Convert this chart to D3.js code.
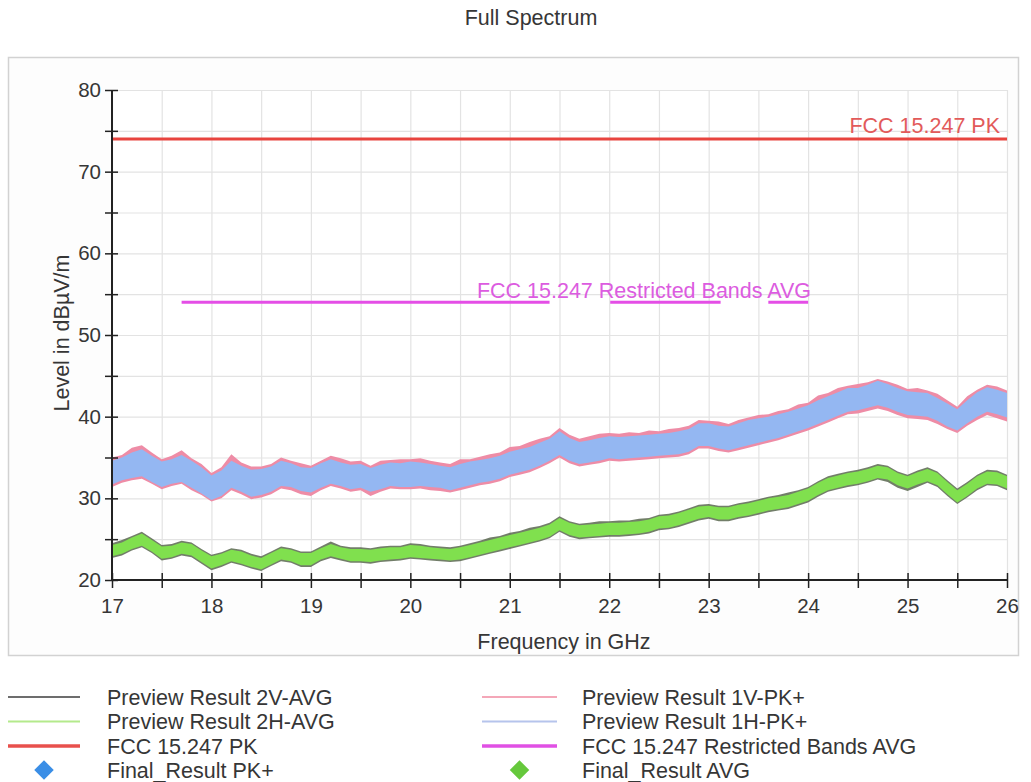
<!DOCTYPE html>
<html>
<head>
<meta charset="utf-8">
<script src="https://cdn.jsdelivr.net/npm/d3@7"></script>
<style>
  html, body { margin: 0; padding: 0; background: #ffffff; }
  svg { display: block; font-family: "Liberation Sans", Arial, sans-serif; }
</style>
</head>
<body>
<svg id="chart" width="1031" height="782"></svg>
<script>
// ---- frequency sampling of the preview traces (GHz) ----
const freqStart = 17.0;
const freqStep = 0.1;

// Preview Result 1V-PK+ : max / min envelope per 0.1 GHz bin (dBµV/m)
const pk1V_hi = [35.0,35.3,36.2,36.5,35.6,34.8,35.2,35.9,34.9,34.2,
  33.1,33.8,35.4,34.4,33.9,33.9,34.2,35.0,34.6,34.3,
  34.0,34.6,35.2,34.9,34.5,34.6,34.0,34.6,34.7,34.8,
  34.8,34.9,34.6,34.4,34.2,34.8,34.8,35.1,35.4,35.6,
  36.3,36.4,36.9,37.3,37.6,38.6,37.8,37.3,37.6,37.9,
  38.0,37.9,38.1,38.0,38.3,38.2,38.5,38.6,38.9,39.6,
  39.5,39.4,39.1,39.6,39.9,40.2,40.3,40.7,40.9,41.5,
  41.7,42.6,42.9,43.5,43.8,44.0,44.2,44.6,44.3,43.9,
  43.4,43.5,43.2,42.8,42.0,41.2,42.5,43.3,43.9,43.7,43.2];
const pk1V_lo = [31.4,31.9,32.2,32.4,31.8,31.1,31.5,31.8,31.0,30.4,
  29.6,30.0,31.0,30.5,29.9,30.1,30.5,31.2,31.0,30.5,
  30.3,31.0,31.5,31.2,30.8,31.0,30.3,30.8,31.2,31.1,
  31.1,31.2,31.0,30.9,30.7,31.0,31.3,31.6,31.8,32.1,
  32.6,32.9,33.2,33.7,34.3,35.0,34.3,33.9,34.1,34.3,
  34.6,34.5,34.6,34.7,34.8,34.9,35.0,35.1,35.4,36.1,
  36.1,35.8,35.6,35.9,36.2,36.5,36.8,37.1,37.5,37.9,
  38.3,38.8,39.3,39.8,40.3,40.4,40.7,41.0,40.7,40.2,
  39.8,39.7,39.6,39.1,38.5,38.0,38.9,39.6,40.2,39.8,39.4];

// Preview Result 1H-PK+
const pk1H_hi = [34.6,35.0,35.6,36.0,35.2,34.5,34.8,35.3,34.6,33.8,
  32.8,33.4,34.6,34.0,33.5,33.6,33.9,34.6,34.3,33.8,
  33.7,34.3,34.8,34.4,34.1,34.2,33.7,34.1,34.4,34.3,
  34.5,34.4,34.2,34.0,33.8,34.2,34.5,34.7,34.9,35.2,
  35.7,36.0,36.3,36.8,37.3,38.2,37.4,36.9,37.1,37.4,
  37.6,37.5,37.6,37.7,37.8,37.9,38.0,38.2,38.5,39.2,
  39.2,38.9,38.8,39.2,39.6,39.8,40.0,40.3,40.6,41.0,
  41.4,42.0,42.5,43.0,43.5,43.5,43.9,44.4,44.0,43.5,
  43.1,43.0,42.9,42.3,41.6,40.9,42.0,43.0,43.6,43.3,42.9];
const pk1H_lo = [31.7,32.2,32.5,32.7,32.0,31.4,31.8,32.0,31.3,30.6,
  29.8,30.3,31.3,30.8,30.2,30.4,30.8,31.5,31.4,30.9,
  30.7,31.3,31.8,31.5,31.1,31.3,30.8,31.1,31.5,31.4,
  31.4,31.5,31.4,31.3,31.0,31.3,31.6,31.9,32.1,32.4,
  32.9,33.2,33.5,34.0,34.6,35.3,34.6,34.2,34.4,34.6,
  34.9,34.8,34.9,35.0,35.1,35.2,35.3,35.4,35.7,36.4,
  36.4,36.1,35.9,36.2,36.5,36.8,37.1,37.4,37.8,38.2,
  38.6,39.1,39.6,40.1,40.6,40.8,41.1,41.4,41.1,40.6,
  40.2,40.1,40.0,39.5,38.8,38.3,39.2,40.0,40.6,40.3,39.9];

// Preview Result 2V-AVG
const avg2V_hi = [24.5,24.9,25.4,25.9,25.1,24.3,24.4,24.8,24.6,23.8,
  23.1,23.4,23.9,23.7,23.2,22.9,23.5,24.1,23.9,23.5,
  23.5,24.1,24.7,24.2,24.0,24.0,23.9,24.1,24.2,24.2,
  24.5,24.4,24.2,24.1,24.0,24.2,24.5,24.8,25.2,25.4,
  25.8,26.0,26.4,26.6,27.0,27.8,27.2,26.9,27.0,27.2,
  27.2,27.3,27.3,27.5,27.6,28.0,28.1,28.4,28.8,29.2,
  29.3,29.1,29.1,29.4,29.6,29.9,30.2,30.4,30.7,31.0,
  31.4,32.1,32.7,33.0,33.3,33.5,33.8,34.2,34.0,33.3,
  32.9,33.4,33.8,33.3,32.2,31.2,32.0,32.9,33.5,33.4,32.9];
const avg2V_lo = [22.7,23.0,23.6,24.0,23.3,22.4,22.6,23.0,22.8,22.0,
  21.2,21.6,22.1,21.8,21.4,21.1,21.7,22.3,22.1,21.6,
  21.6,22.3,22.7,22.4,22.1,22.1,22.0,22.2,22.3,22.4,
  22.6,22.5,22.4,22.3,22.2,22.3,22.6,22.9,23.2,23.5,
  23.8,24.1,24.4,24.7,25.1,25.9,25.3,25.0,25.1,25.2,
  25.3,25.3,25.4,25.5,25.7,26.1,26.2,26.5,26.9,27.3,
  27.5,27.2,27.2,27.5,27.7,28.0,28.3,28.5,28.7,29.1,
  29.5,30.2,30.8,31.1,31.4,31.6,31.9,32.3,32.0,31.3,
  30.9,31.4,31.9,31.4,30.3,29.3,30.1,31.0,31.6,31.5,31.0];

// Preview Result 2H-AVG
const avg2H_hi = [24.3,24.6,25.2,25.7,24.9,24.1,24.2,24.6,24.4,23.6,
  22.9,23.2,23.7,23.5,23.0,22.7,23.3,23.9,23.7,23.3,
  23.3,23.9,24.4,24.0,23.8,23.8,23.7,23.9,24.0,24.0,
  24.3,24.2,24.0,23.9,23.8,24.0,24.3,24.6,24.9,25.2,
  25.5,25.8,26.1,26.4,26.8,27.6,27.0,26.7,26.8,26.9,
  27.0,27.0,27.1,27.2,27.4,27.8,27.9,28.2,28.6,29.0,
  29.1,28.9,28.9,29.2,29.4,29.7,30.0,30.2,30.4,30.8,
  31.2,31.9,32.5,32.8,33.1,33.3,33.6,34.0,33.8,33.1,
  32.7,33.2,33.6,33.1,32.0,31.0,31.8,32.7,33.3,33.2,32.7];
const avg2H_lo = [22.9,23.2,23.8,24.2,23.5,22.6,22.8,23.2,23.0,22.2,
  21.4,21.8,22.3,22.0,21.6,21.3,21.9,22.5,22.3,21.8,
  21.8,22.5,22.9,22.6,22.3,22.3,22.2,22.4,22.5,22.6,
  22.8,22.7,22.6,22.5,22.4,22.5,22.8,23.1,23.4,23.7,
  24.0,24.3,24.6,24.9,25.3,26.1,25.5,25.2,25.3,25.4,
  25.5,25.5,25.6,25.7,25.9,26.3,26.4,26.7,27.1,27.5,
  27.7,27.4,27.4,27.7,27.9,28.2,28.5,28.7,28.9,29.3,
  29.7,30.4,31.0,31.3,31.6,31.8,32.1,32.5,32.3,31.6,
  31.2,31.7,32.1,31.6,30.5,29.5,30.3,31.2,31.8,31.7,31.2];

// ---- limit lines ----
const pkLimitLevel = 74;                 // FCC 15.247 PK
const pkLimitRange = [17, 26];
const avgLimitLevel = 54;                // FCC 15.247 Restricted Bands AVG
const restrictedBands = [[17.7, 21.4], [22.01, 23.12], [23.6, 24.0]];

// ---- axes ----
const xDomain = [17, 26];
const yDomain = [20, 80];
const xTickValues = [17, 17.5, 18, 18.5, 19, 19.5, 20, 20.5, 21, 21.5, 22, 22.5, 23, 23.5, 24, 24.5, 25, 25.5, 26];
const yTickValues = [20, 25, 30, 35, 40, 45, 50, 55, 60, 65, 70, 75, 80];
const xTickLabels = ["17", "", "18", "", "19", "", "20", "", "21", "", "22", "", "23", "", "24", "", "25", "", "26"];
const yTickLabels = ["20", "", "30", "", "40", "", "50", "", "60", "", "70", "", "80"];

// ---- legend ----
const legendLeft = [
  { label: "Preview Result 2V-AVG", type: "line", color: "#3c3c3c", width: 1.5 },
  { label: "Preview Result 2H-AVG", type: "line", color: "#b4ea8c", width: 2 },
  { label: "FCC 15.247 PK", type: "line", color: "#e8504c", width: 3.5 },
  { label: "Final_Result PK+", type: "diamond", color: "#3a8ee6" }
];
const legendRight = [
  { label: "Preview Result 1V-PK+", type: "line", color: "#f08aa0", width: 1.5 },
  { label: "Preview Result 1H-PK+", type: "line", color: "#b6c4ec", width: 2 },
  { label: "FCC 15.247 Restricted Bands AVG", type: "line", color: "#e050e4", width: 3.5 },
  { label: "Final_Result AVG", type: "diamond", color: "#66c83c" }
];

const textColor = "#363636";
const labelSize = 21.5;
const svg = d3.select("#chart");

// title
svg.append("text")
  .attr("x", 531).attr("y", 25)
  .attr("text-anchor", "middle")
  .attr("font-size", labelSize).attr("fill", textColor)
  .text("Full Spectrum");

// framed panel
svg.append("rect")
  .attr("x", 8.5).attr("y", 57.5)
  .attr("width", 1010).attr("height", 598)
  .attr("fill", "#fdfdfd")
  .attr("stroke", "#d2d2d2").attr("stroke-width", 1.5);

const x = d3.scaleLinear().domain(xDomain).range([112, 1007]);
const y = d3.scaleLinear().domain(yDomain).range([580, 90]);

// plot background
svg.append("rect")
  .attr("x", x(xDomain[0])).attr("y", y(yDomain[1]))
  .attr("width", x(xDomain[1]) - x(xDomain[0]))
  .attr("height", y(yDomain[0]) - y(yDomain[1]))
  .attr("fill", "#ffffff");

// grid
const grid = svg.append("g").attr("class", "grid");
grid.selectAll("line.v").data(xTickValues).join("line")
  .attr("class", "v")
  .attr("x1", d => x(d) + 0.5).attr("x2", d => x(d) + 0.5)
  .attr("y1", y(yDomain[1])).attr("y2", y(yDomain[0]))
  .attr("stroke", "#e3e3e3").attr("stroke-width", 1.2);
grid.selectAll("line.h").data(yTickValues).join("line")
  .attr("class", "h")
  .attr("x1", x(xDomain[0])).attr("x2", x(xDomain[1]))
  .attr("y1", d => y(d) + 0.5).attr("y2", d => y(d) + 0.5)
  .attr("stroke", "#e3e3e3").attr("stroke-width", 1.2);

// clip for the traces
svg.append("clipPath").attr("id", "plotClip")
  .append("rect")
  .attr("x", x(xDomain[0])).attr("y", y(yDomain[1]))
  .attr("width", x(xDomain[1]) - x(xDomain[0]))
  .attr("height", y(yDomain[0]) - y(yDomain[1]));

const traces = svg.append("g").attr("clip-path", "url(#plotClip)");

function bins(hi, lo) {
  return hi.map((v, i) => ({ f: freqStart + i * freqStep, hi: v, lo: lo[i] }));
}
const band = d3.area()
  .x(d => x(d.f))
  .y0(d => y(d.lo))
  .y1(d => y(d.hi))
  .curve(d3.curveLinear);

function drawBand(hi, lo, fill, opacity) {
  traces.append("path")
    .datum(bins(hi, lo))
    .attr("d", band)
    .attr("fill", fill)
    .attr("fill-opacity", opacity);
}

// peak traces: 1V beneath, 1H on top
drawBand(pk1V_hi, pk1V_lo, "#ee8ca6", 1);
drawBand(pk1H_hi, pk1H_lo, "#94b7f2", 1);

// average traces: 2V beneath, 2H on top
drawBand(avg2V_hi, avg2V_lo, "#4f5e44", 0.8);
drawBand(avg2H_hi, avg2H_lo, "#80e04e", 1);

// PK limit line
traces.append("line")
  .attr("x1", x(pkLimitRange[0])).attr("x2", x(pkLimitRange[1]))
  .attr("y1", y(pkLimitLevel)).attr("y2", y(pkLimitLevel))
  .attr("stroke", "#e8443f").attr("stroke-width", 3);

// restricted band AVG limit segments
traces.selectAll("line.rb").data(restrictedBands).join("line")
  .attr("class", "rb")
  .attr("x1", d => x(d[0])).attr("x2", d => x(d[1]))
  .attr("y1", y(avgLimitLevel)).attr("y2", y(avgLimitLevel))
  .attr("stroke", "#e44ee6").attr("stroke-width", 3);

// limit labels
svg.append("text")
  .attr("x", x(xDomain[1]) - 7).attr("y", y(pkLimitLevel) - 6)
  .attr("text-anchor", "end")
  .attr("font-size", labelSize).attr("fill", "#e25a5a")
  .text("FCC 15.247 PK");
svg.append("text")
  .attr("x", x(restrictedBands[2][1]) + 3).attr("y", y(avgLimitLevel) - 4)
  .attr("text-anchor", "end")
  .attr("font-size", labelSize).attr("fill", "#dc5ce0")
  .text("FCC 15.247 Restricted Bands AVG");

// axes
const yAxis = d3.axisLeft(y)
  .tickValues(yTickValues)
  .tickFormat((d, i) => yTickLabels[i])
  .tickSize(7).tickPadding(5);
const gy = svg.append("g")
  .attr("transform", `translate(${x(xDomain[0])},0)`)
  .call(yAxis);
gy.selectAll(".tick line").attr("x2", -7).attr("x1", 6).attr("stroke", "#222").attr("stroke-width", 1.5);
gy.select(".domain").attr("d", `M0,${y(yDomain[0])}V${y(yDomain[1])}`).attr("stroke", "#222").attr("stroke-width", 2);
gy.selectAll(".tick text").attr("font-size", 20.5).attr("fill", textColor)
  .attr("font-family", "Liberation Sans, Arial, sans-serif").attr("x", -11);

const xAxis = d3.axisBottom(x)
  .tickValues(xTickValues)
  .tickFormat((d, i) => xTickLabels[i])
  .tickSize(8).tickPadding(10);
const gx = svg.append("g")
  .attr("transform", `translate(0,${y(yDomain[0])})`)
  .call(xAxis);
gx.selectAll(".tick line").attr("y1", -7).attr("y2", 8).attr("stroke", "#222").attr("stroke-width", 1.5);
gx.select(".domain").attr("d", `M${x(xDomain[0])},0H${x(xDomain[1])}`).attr("stroke", "#222").attr("stroke-width", 2);
gx.selectAll(".tick text").attr("font-size", 20.5).attr("fill", textColor)
  .attr("font-family", "Liberation Sans, Arial, sans-serif");

// axis titles
svg.append("text")
  .attr("x", 564).attr("y", 649)
  .attr("text-anchor", "middle")
  .attr("font-size", labelSize).attr("fill", textColor)
  .text("Frequency in GHz");
svg.append("text")
  .attr("transform", "translate(69,333) rotate(-90)")
  .attr("text-anchor", "middle")
  .attr("font-size", labelSize).attr("fill", textColor)
  .text("Level in dBµV/m");

// legend
function drawLegend(items, lineX0, lineX1, textX) {
  const rowY = [697, 721.5, 746, 770];
  const g = svg.append("g");
  items.forEach((it, i) => {
    const cy = rowY[i];
    if (it.type === "line") {
      g.append("line")
        .attr("x1", lineX0).attr("x2", lineX1)
        .attr("y1", cy).attr("y2", cy)
        .attr("stroke", it.color).attr("stroke-width", it.width);
    } else {
      g.append("path")
        .attr("d", d3.symbol().type(d3.symbolSquare).size(190)())
        .attr("transform", `translate(${(lineX0 + lineX1) / 2},${cy}) rotate(45)`)
        .attr("fill", it.color);
    }
    g.append("text")
      .attr("x", textX).attr("y", cy + 7.5)
      .attr("font-size", labelSize).attr("fill", textColor)
      .text(it.label);
  });
}
drawLegend(legendLeft, 8, 80, 107);
drawLegend(legendRight, 482, 557, 582);
</script>
</body>
</html>
